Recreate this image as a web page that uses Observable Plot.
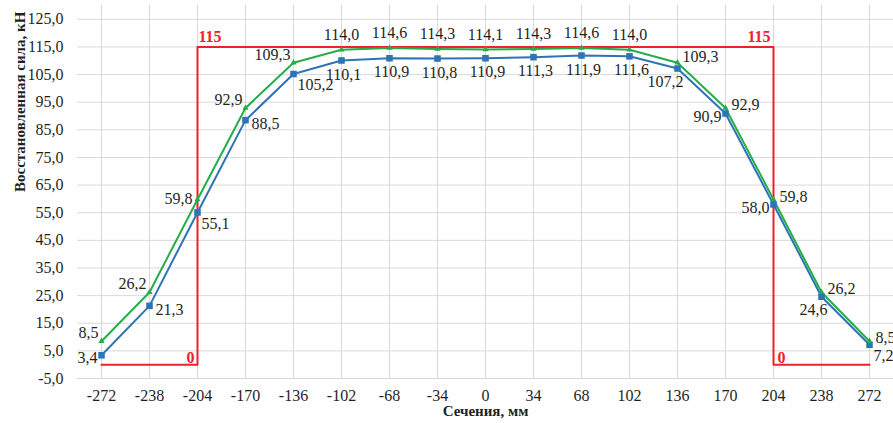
<!DOCTYPE html>
<html>
<head>
<meta charset="utf-8">
<script src="https://cdn.jsdelivr.net/npm/d3@7"></script>
<script src="https://cdn.jsdelivr.net/npm/@observablehq/plot@0.6"></script>
<style>
  html, body { margin: 0; padding: 0; background: #fff; }
  #chart svg { display: block; }
  #chart svg text { font-family: "Liberation Serif", serif; }
</style>
</head>
<body>
<div id="chart"></div>
<script>
// Cross-sections along the specimen, mm
const sections = [-272, -238, -204, -170, -136, -102, -68, -34, 0, 34, 68, 102, 136, 170, 204, 238, 272];

// Recovery force, kN — two measured series
const forceGreen = [8.5, 26.2, 59.8, 92.9, 109.3, 114.0, 114.6, 114.3, 114.1, 114.3, 114.6, 114.0, 109.3, 92.9, 59.8, 26.2, 8.5];
const forceBlue  = [3.4, 21.3, 55.1, 88.5, 105.2, 110.1, 110.9, 110.8, 110.9, 111.3, 111.9, 111.6, 107.2, 90.9, 58.0, 24.6, 7.2];

// Where each value label sits relative to its point (compass code)
const placeGreen = ["nw", "nw", "w", "nw", "nw", "n", "n", "n", "n", "n", "n", "n", "ne", "e", "e", "e", "e"];
const placeBlue  = ["w", "e", "se", "e", "se", "s", "s", "s", "s", "s", "s", "s", "sw", "w", "w", "sw", "se"];

// Reference profile (red outline)
const refX = [-272, -204, -204, 204, 204, 272];
const refY = [0, 0, 115, 115, 0, 0];
const refLabels = ["115", "0", "115", "0"];
const refLabelX = [-204, -204, 204, 204];
const refLabelY = [115, 0, 115, 0];

// Axis ticks
const yTicks = [-5, 5, 15, 25, 35, 45, 55, 65, 75, 85, 95, 105, 115, 125];
const xTicks = sections;

const xTitle = "Сечения, мм";
const yTitle = "Восстановленная сила, кН";

const FONT = "Liberation Serif";
const GREEN = "#25ad4a";
const BLUE = "#2e74b5";
const RED = "#ee2029";
const GRID = "#d9d9d9";
const INK = "#1f1f1f";

const fmt1 = d => d.toFixed(1).replace(".", ",");

const green = sections.map((s, i) => ({s, v: forceGreen[i], p: placeGreen[i]}));
const blue = sections.map((s, i) => ({s, v: forceBlue[i], p: placeBlue[i]}));
const ref = refX.map((x, i) => ({x, y: refY[i]}));
const refText = refLabels.map((t, i) => ({t, x: refLabelX[i], y: refLabelY[i]}));

// offsets per placement code: [textAnchor, dx, dy]
const offGreen = {
  nw: ["end", -3, -8], w: ["end", -5, -1], n: ["middle", 0, -15],
  ne: ["start", 5, -6], e: ["start", 6, -3]
};
const offBlue = {
  w: ["end", -4, 3], e: ["start", 6, 4], se: ["start", 4, 11],
  s: ["middle", 2, 14], sw: ["end", 6, 13]
};

function valueLabels(data, offsets) {
  return Object.entries(offsets).map(([code, [anchor, dx, dy]]) =>
    Plot.text(data.filter(d => d.p === code), {
      x: "s", y: "v", text: d => fmt1(d.v),
      textAnchor: anchor, dx, dy,
      fill: INK, fontSize: 16, fontFamily: FONT
    })
  );
}

const redLabel = (i, anchor, dx, dy) => Plot.text(refText, {
  filter: (d, j) => j === i, x: "x", y: "y", text: "t",
  textAnchor: anchor, dx, dy, fill: RED, fontWeight: "bold", fontSize: 16, fontFamily: FONT
});

const chart = Plot.plot({
  width: 893,
  height: 423,
  marginLeft: 77,
  marginRight: 0,
  marginTop: 5,
  marginBottom: 45,
  style: {fontSize: "16px", color: INK, background: "#fff"},
  x: {type: "linear", domain: [-289, 289]},
  y: {domain: [-5, 130]},
  marks: [
    Plot.ruleY(yTicks, {stroke: GRID, strokeWidth: 1}),
    Plot.ruleX(xTicks, {y1: -5, y2: 130, stroke: GRID, strokeWidth: 1}),
    Plot.axisY({ticks: yTicks, tickSize: 0, tickPadding: 14, tickFormat: fmt1, label: null, fontSize: 16, fontFamily: FONT}),
    Plot.axisX({ticks: xTicks, tickSize: 0, tickPadding: 11, tickFormat: d => String(d), label: null, fontSize: 16, fontFamily: FONT}),
    Plot.line(ref, {x: "x", y: "y", stroke: RED, strokeWidth: 2}),
    redLabel(0, "start", 1, -10),
    redLabel(1, "end", -3, -7),
    redLabel(2, "end", -3, -10),
    redLabel(3, "start", 4, -7),
    Plot.line(blue, {x: "s", y: "v", stroke: BLUE, strokeWidth: 2}),
    Plot.line(green, {x: "s", y: "v", stroke: GREEN, strokeWidth: 2}),
    Plot.dot(blue, {x: "s", y: "v", symbol: "square", r: 3.7, fill: BLUE}),
    Plot.dot(green, {x: "s", y: "v", symbol: "triangle", r: 2.3, fill: GREEN}),
    ...valueLabels(green, offGreen),
    ...valueLabels(blue, offBlue),
    Plot.text([xTitle], {frameAnchor: "bottom", dy: 37, text: d => d, fontWeight: "bold", fontSize: 15, fill: INK, fontFamily: FONT}),
    Plot.text([yTitle], {frameAnchor: "left", dx: -57, rotate: -90, text: d => d, fontWeight: "bold", fontSize: 15, fill: INK, fontFamily: FONT})
  ]
});

// serif face everywhere, as presentation attributes
d3.select(chart).attr("font-family", FONT);
d3.select(chart).selectAll("g, text").attr("font-family", FONT);

document.getElementById("chart").appendChild(chart);
</script>
</body>
</html>
